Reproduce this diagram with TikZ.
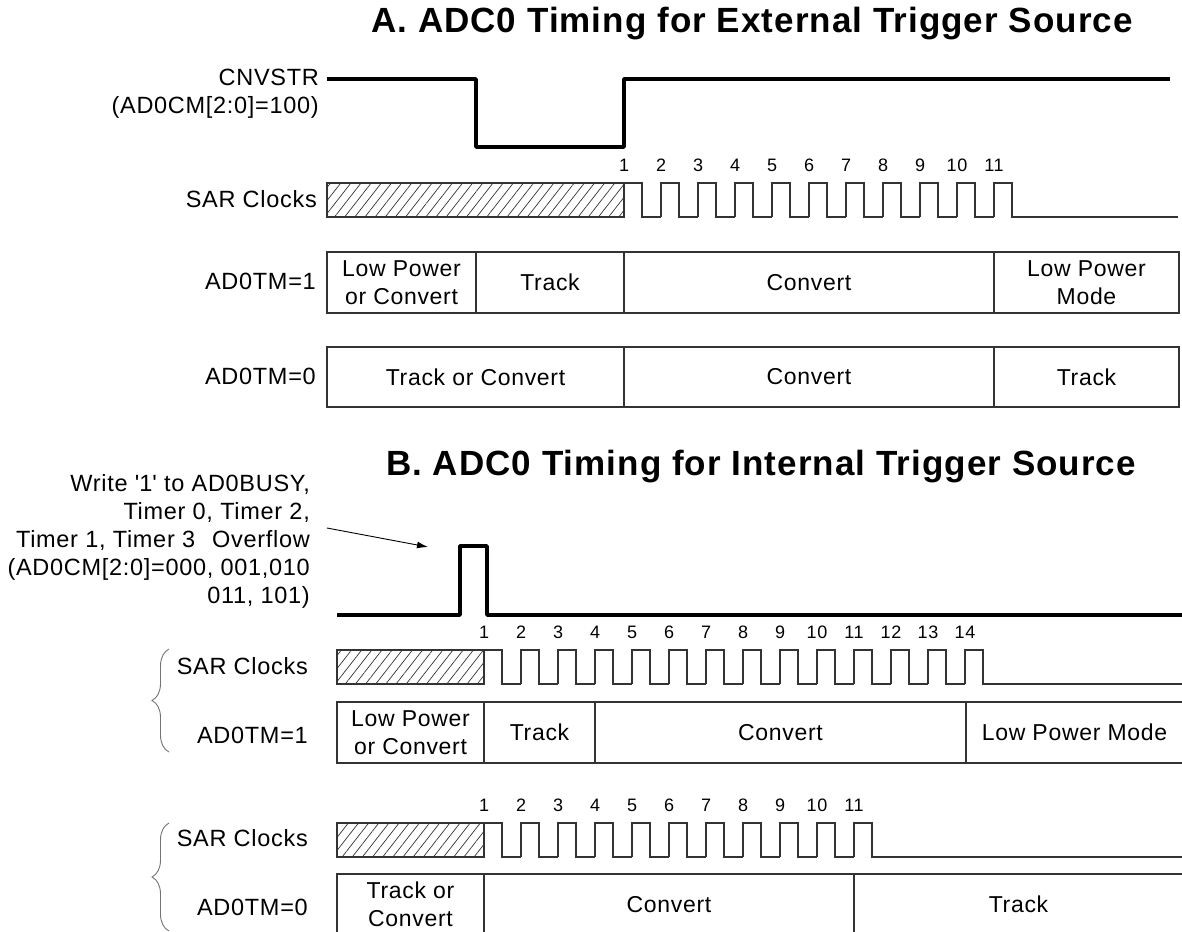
\documentclass[tikz,border=0pt]{standalone}
\usepackage{fontspec}
\setmainfont[LetterSpace=3]{Liberation Sans}
\usepackage{tikz}
\usetikzlibrary{patterns.meta}
\usetikzlibrary{arrows.meta}
\usetikzlibrary{decorations.pathreplacing}
\tikzset{x=1pt, y=-1pt,
ttl/.style={ % Section headings
font=\bfseries\fontsize{35}{40}\selectfont},
lbl/.style={ % Row names on the left
anchor=east, inner sep=0pt,
font=\fontsize{23.5}{28}\selectfont},
num/.style={ % Clock numbers
inner sep=0pt, font=\fontsize{18}{20}\selectfont},
cell/.style={ % One phase of a row
draw=black!80, line width=1.3pt, inner sep=0pt,
minimum height=61pt, align=center,
font=\fontsize{23}{28}\selectfont},
sig/.style={ % Trigger signals
line width=3.6pt, line join=round, draw=black},
clk/.style={ % SAR clock pulses
line width=1.3pt, draw=black!80},
hatch/.style={ % Clock not running
draw=black!80, line width=1.3pt,
pattern={Lines[angle=52, distance=8pt, line width=0.7pt]},
pattern color=black!80},
brc/.style={ % Grouping brace
decorate, decoration={brace, amplitude=17pt},
draw=black!55, line width=0.9pt},
ptr/.style={ % Pointer to the pulse
-{Latex[length=11pt, width=7pt]}, line width=0.9pt}}
% #1 name, #2 hatch start, #3 first edge, #4 top, #5 pulses, #6 end
\newcommand{\sarclk}[6]{%
\draw[hatch] (#2,#4) rectangle (#3,#4+34);
\foreach \i in {1,...,#5}{
\pgfmathsetmacro\xr{#3+37*(\i-1)}
\draw[clk] (\xr,#4+34) -- (\xr,#4) -- (\xr+18,#4) -- (\xr+18,#4+34) -- (\xr+37,#4+34);
\node[num] (#1\i) at (\xr,#4-18) {\i};
}
\draw[clk] (#3+37*#5-19,#4+34) -- (#6,#4+34);
}

\begin{document}
\begin{tikzpicture}
\clip (0,0) rectangle (1182,931);

% A. external trigger
\node[ttl] (titleA) at (752,24) {A. ADC0 Timing for External Trigger Source};
\node[lbl, align=right] (cnv) at (319,94) {CNVSTR\\(AD0CM[2:0]=100)};
\draw[sig] (327,79) -- (476,79) -- (476,147) -- (624,147) -- (624,79) -- (1170,79);

\node[lbl] (sarA) at (317,199) {SAR Clocks};
\sarclk{na}{327}{624}{183}{11}{1178}

\node[lbl] (tmoneA) at (316,281) {AD0TM=1};
\node[cell, minimum width=149pt] (aonelp) at (401.5,282.5) {Low Power\\or Convert};
\node[cell, minimum width=148pt] (aonetr) at (550,282.5) {Track};
\node[cell, minimum width=370pt] (aonecv) at (809,282.5) {Convert};
\node[cell, minimum width=185pt] (aonelm) at (1086.5,282.5) {Low Power\\Mode};

\node[lbl] (tmzeroA) at (316,376) {AD0TM=0};
\node[cell, minimum width=297pt, minimum height=60pt] (azerotc) at (475.5,377) {Track or Convert};
\node[cell, minimum width=370pt, minimum height=60pt] (azerocv) at (809,377) {Convert};
\node[cell, minimum width=185pt, minimum height=60pt] (azerotr) at (1086.5,377) {Track};

% B. internal trigger
\node[ttl] (titleB) at (761,467) {B. ADC0 Timing for Internal Trigger Source};
\node[lbl, align=right] (trignote) at (310,541) {Write \textquotesingle 1\textquotesingle{} to AD0BUSY,\\Timer 0, Timer 2,\\Timer 1, Timer 3\hspace{17pt}Overflow\\(AD0CM[2:0]=000, 001,010\\011, 101)};
\coordinate (trigtip) at (428,547);
\draw[ptr] ([xshift=17pt, yshift=13pt]trignote.east) -- (trigtip);
\draw[sig] (337,615) -- (460,615) -- (460,546) -- (487,546) -- (487,615) -- (1190,615);

\draw[brc] (169,752) -- (169,649);
\node[lbl] (sarBa) at (308,666) {SAR Clocks};
\sarclk{nb}{337}{484}{650}{14}{1190}
\node[lbl] (tmoneB) at (308,735) {AD0TM=1};
\node[cell, minimum width=147pt] (bonelp) at (410.5,732.5) {Low Power\\or Convert};
\node[cell, minimum width=111pt] (bonetr) at (539.5,732.5) {Track};
\node[cell, minimum width=371pt] (bonecv) at (780.5,732.5) {Convert};
\node[cell, minimum width=217pt] (bonelm) at (1074.5,732.5) {Low Power Mode};

\draw[brc] (169,931) -- (169,823);
\node[lbl] (sarBb) at (308,838) {SAR Clocks};
\sarclk{nc}{337}{484}{823}{11}{1190}
\node[lbl] (tmzeroB) at (308,907) {AD0TM=0};
\node[cell, minimum width=147pt] (bzerotc) at (410.5,904.5) {Track or\\Convert};
\node[cell, minimum width=370pt] (bzerocv) at (669,904.5) {Convert};
\node[cell, minimum width=329pt] (bzerotr) at (1018.5,904.5) {Track};
\end{tikzpicture}
\end{document}
